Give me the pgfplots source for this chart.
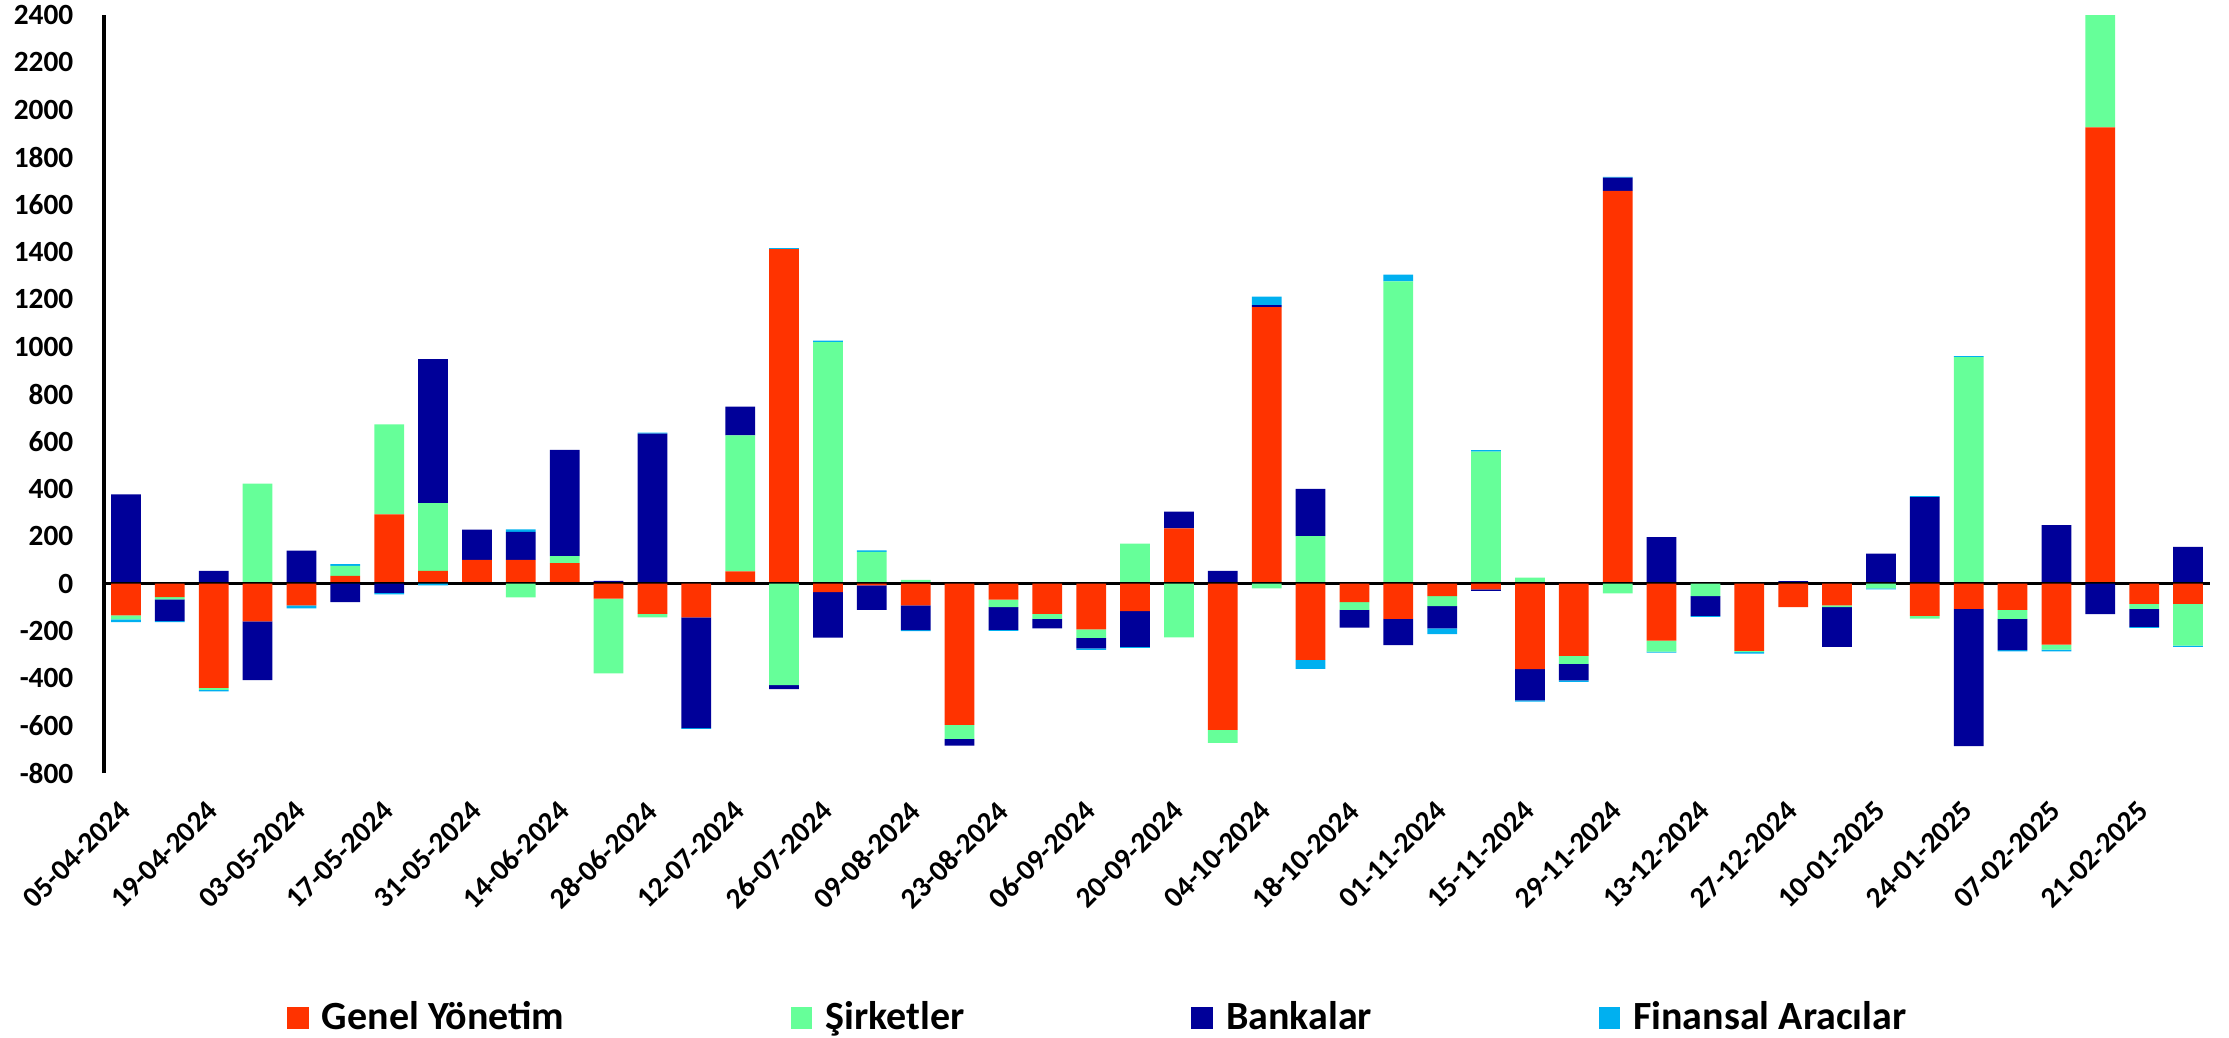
\documentclass[border=0pt]{standalone}
\usepackage{fontspec}
\setmainfont{Carlito}
\usepackage{pgfplots}
\usepackage{pgfplotstable}
\pgfplotsset{compat=1.18}
\definecolor{cGen}{HTML}{FF3300}
\definecolor{cSir}{HTML}{66FF99}
\definecolor{cBan}{HTML}{000099}
\definecolor{cFin}{HTML}{00B0F0}

\pgfplotstableread{
i G S B F
0 -134 -17 376 -12
1 -57 -10 -92 -4
2 -441 -8 53 -6
3 -160 422 -248 0
4 -92 0 139 -13
5 32 42 -79 8
6 292 380 -40 -6
7 53 286 608 -8
8 100 0 128 0
9 100 -59 118 11
10 86 30 448 0
11 -64 -315 11 0
12 -128 -15 633 4
13 -143 0 -467 -4
14 51 574 122 0
15 1412 -429 -17 4
16 -36 1019 -192 6
17 -8 134 -103 6
18 -92 15 -105 -4
19 -597 -59 -28 0
20 -68 -32 -96 -4
21 -128 -21 -40 0
22 -194 -36 -44 -6
23 -117 168 -151 -4
24 233 -227 70 0
25 -618 -55 53 0
26 1167 -21 8 36
27 -322 200 200 -38
28 -79 -32 -75 0
29 -149 1276 -111 28
30 -53 -42 -94 -25
31 -25 557 -6 6
32 -361 25 -132 -6
33 -305 -34 -70 -6
34 1658 -42 55 4
35 -241 -47 196 -4
36 0 -53 -84 -4
37 -284 -6 4 -6
38 -100 0 10 0
39 -92 -8 -168 0
40 0 -21 126 -4
41 -137 -11 365 4
42 -107 956 -580 4
43 -111 -38 -132 -6
44 -258 -21 246 -8
45 1926 500 -129 0
46 -86 -21 -76 -4
47 -86 -176 155 -6
}\data

\pgfplotsset{mybase/.style={
  at={(0,0)}, anchor=south west, scale only axis,
  width=631.8pt, height=227.4pt,
  xmin=-0.5, xmax=47.5, ymin=-800, ymax=2400,
  ybar stacked, bar width=0.68,
}}

\begin{document}
\begin{tikzpicture}
\path (-31.2pt,-79.2pt) rectangle (637.5pt,231.9pt);
\begin{axis}[mybase,
  axis x line*=bottom, axis y line*=left,
  x axis line style={draw=none},
  y axis line style={-, line width=1pt},
  tick style={draw=none},
  ytick={-800,-600,...,2400},
  /pgf/number format/assume math mode=true,
  /pgf/number format/1000 sep={},
  yticklabel style={font=\bfseries\fontsize{8.8}{10}\selectfont, inner sep=0pt},
  yticklabel shift=9pt,
  xtick={0,2,...,46},
  xticklabels={05-04-2024,19-04-2024,03-05-2024,17-05-2024,31-05-2024,14-06-2024,28-06-2024,12-07-2024,26-07-2024,09-08-2024,23-08-2024,06-09-2024,20-09-2024,04-10-2024,18-10-2024,01-11-2024,15-11-2024,29-11-2024,13-12-2024,27-12-2024,10-01-2025,24-01-2025,07-02-2025,21-02-2025},
  xticklabel style={font=\bfseries\fontsize{8.8}{10}\selectfont, xshift=-2.4pt, yshift=-7.6pt, rotate=45, anchor=north east, inner sep=0pt},
  legend columns=4,
  legend style={at={(0.473,-0.323)}, anchor=center, draw=none, inner sep=0pt,
    font=\bfseries\fontsize{12}{14}\selectfont,
    nodes={inner ysep=0pt},
    /tikz/every even column/.append style={column sep=66pt}},
  legend image code/.code={\fill[#1] (0pt,-3.2pt) rectangle (6.4pt,3.2pt); \path (8.4pt,0pt);},
]
\addplot[fill=cGen, draw=none] table[x=i, y expr={max(\thisrow{G},0)}] {\data};
\addplot[fill=cSir, draw=none] table[x=i, y expr={max(\thisrow{S},0)}] {\data};
\addplot[fill=cBan, draw=none] table[x=i, y expr={max(\thisrow{B},0)}] {\data};
\addplot[fill=cFin, draw=none] table[x=i, y expr={max(\thisrow{F},0)}] {\data};
\legend{Genel Yönetim, Şirketler, Bankalar, Finansal Aracılar}
\end{axis}
\begin{axis}[mybase, hide axis]
\addplot[fill=cGen, draw=none] table[x=i, y expr={min(\thisrow{G},0)}] {\data};
\addplot[fill=cSir, draw=none] table[x=i, y expr={min(\thisrow{S},0)}] {\data};
\addplot[fill=cBan, draw=none] table[x=i, y expr={min(\thisrow{B},0)}] {\data};
\addplot[fill=cFin, draw=none] table[x=i, y expr={min(\thisrow{F},0)}] {\data};
\draw[line width=1pt] (axis cs:-0.5,0) -- (axis cs:47.5,0);
\end{axis}
\end{tikzpicture}
\end{document}
